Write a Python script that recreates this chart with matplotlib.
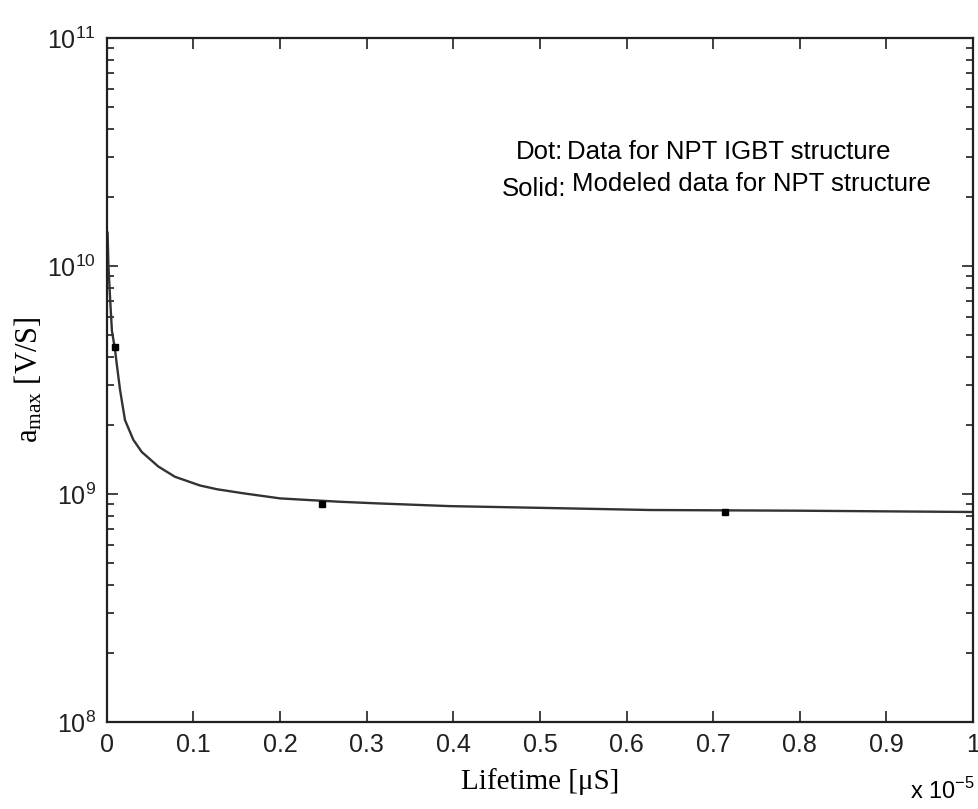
import math
import matplotlib.pyplot as plt
from matplotlib.ticker import FuncFormatter, LogLocator, MultipleLocator

plt.rcParams['mathtext.fontset'] = 'custom'
plt.rcParams['mathtext.rm'] = 'Liberation Serif'
plt.rcParams['mathtext.sf'] = 'Liberation Sans'

# modelled curve (lifetime in s, a_max in V/s)
lifetime_model = [0.001e-5, 0.002e-5, 0.004e-5, 0.006e-5, 0.0096e-5, 0.0115e-5,
                  0.0154e-5, 0.0211e-5, 0.0307e-5, 0.0404e-5, 0.0596e-5, 0.0788e-5,
                  0.1077e-5, 0.127e-5, 0.158e-5, 0.200e-5, 0.231e-5, 0.269e-5,
                  0.312e-5, 0.396e-5, 0.512e-5, 0.627e-5, 0.80e-5, 1.0e-5]
amax_model = [1.4e10, 1.0e10, 7.1e9, 5.2e9, 4.3e9, 3.74e9,
              2.86e9, 2.11e9, 1.73e9, 1.53e9, 1.32e9, 1.19e9,
              1.09e9, 1.05e9, 1.007e9, 9.57e8, 9.42e8, 9.25e8,
              9.1e8, 8.85e8, 8.68e8, 8.51e8, 8.45e8, 8.34e8]

# measured points for the NPT IGBT
lifetime_data = [0.0096e-5, 0.249e-5, 0.7137e-5]
amax_data = [4.4e9, 9.0e8, 8.3e8]

fig = plt.figure(figsize=(9.79, 8.09), dpi=100)
ax = fig.add_axes([0.109, 0.1075, 0.885, 0.8455])

ax.plot(lifetime_model, amax_model, color='#333333', linewidth=1.7)
ax.plot(lifetime_data, amax_data, 's', color='black', markersize=4)

ax.set_yscale('log')
ax.set_xlim(0, 1e-5)
ax.set_ylim(1e8, 1e11)

ax.xaxis.set_major_locator(MultipleLocator(0.1e-5))
ax.xaxis.set_major_formatter(FuncFormatter(lambda v, p: '%g' % round(v * 1e5, 2)))
ax.yaxis.set_major_locator(LogLocator(base=10, numticks=10))
ax.yaxis.set_minor_locator(LogLocator(base=10, subs=range(2, 10), numticks=20))
ax.yaxis.set_major_formatter(FuncFormatter(lambda v, p: r'$\mathsf{10^{%d}}$' % round(math.log10(v))))

ax.tick_params(which='both', direction='in', top=True, right=True, colors='#202020',
               labelsize=18, width=1.2)
ax.tick_params(which='major', length=8, pad=8)
ax.tick_params(which='minor', length=5)
for lab in ax.get_xticklabels() + ax.get_yticklabels():
    lab.set_family('Liberation Sans')
for s in ax.spines.values():
    s.set_linewidth(1.6)
    s.set_color('#202020')

ax.set_xlabel('Lifetime [μS]', family='Liberation Serif', fontsize=21, labelpad=8)
ax.set_ylabel(r'$\mathrm{a_{max}}$ [V/S]', family='Liberation Serif', fontsize=22, labelpad=2)

fig.text(0.996, 0.006, r'x 10$^{\mathsf{-5}}$', family='Liberation Sans', fontsize=17,
         ha='right', va='bottom')

ax.text(0.527, 0.823, 'Dot:', transform=ax.transAxes, family='Liberation Sans',
        fontsize=18.5, ha='right', va='baseline')
ax.text(0.531, 0.823, 'Data for NPT IGBT structure', transform=ax.transAxes,
        family='Liberation Sans', fontsize=18.5, ha='left', va='baseline')
ax.text(0.531, 0.769, 'Solid:', transform=ax.transAxes, family='Liberation Sans',
        fontsize=18.5, ha='right', va='baseline')
ax.text(0.537, 0.776, 'Modeled data for NPT structure', transform=ax.transAxes,
        family='Liberation Sans', fontsize=18.5, ha='left', va='baseline')

fig.savefig('out.png', dpi=100)
